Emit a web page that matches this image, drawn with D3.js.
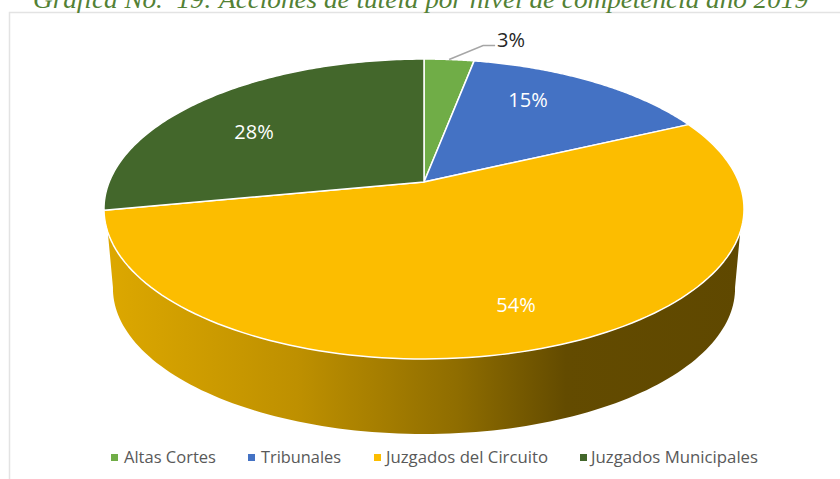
<!DOCTYPE html>
<html>
<head>
<meta charset="utf-8">
<script src="https://cdnjs.cloudflare.com/ajax/libs/d3/7.8.5/d3.min.js"></script>
<style>
  html, body { margin: 0; padding: 0; background: #fff; overflow: hidden; }
  text { font-family: "Open Sans", sans-serif; }
</style>
</head>
<body>
<svg id="chart" width="840" height="479"></svg>
<script>
const titleText = 'Gráfica No.  19: Acciones de tutela por nivel de competencia año 2019'
const categories = ['Altas Cortes', 'Tribunales', 'Juzgados del Circuito', 'Juzgados Municipales']
const values = [3, 15, 54, 28]
const colors = ['#70AD47', '#4472C4', '#FCBD00', '#43672B']

// layout
const hub = { x: 424, y: 182 }
const legendSquareX = [111, 248, 374, 580]
const legendTextX = [124, 261, 386, 591]
const legendTextW = [92, 80, 162, 167]
const labelOffsets = [[87, -142], [104, -82], [92, 123], [-170, -50]]
const labelColors = ['#262626', '#fff', '#fff', '#fff']

// the pie is a circle seen in perspective, so the hub sits above the ellipse centre
const k = 0.18
const a = 314.8
const b = 145.1
const wallDrop = 80
const wallScale = 0.972

function project (theta, r = 1, scale = 1, drop = 0) {
  const u = r * Math.sin(theta)
  const v = r * Math.cos(theta)
  const den = 1 + k * v
  return [hub.x + scale * a * u / den, hub.y + drop - scale * b * v / den]
}

const svg = d3.select('#chart')
const deg = Math.PI / 180

// chart frame
svg.append('path')
  .attr('d', 'M9.5,479V12.5H840')
  .attr('fill', 'none')
  .attr('stroke', '#e3e3e3')
  .attr('stroke-width', 1.5)

svg.append('text')
  .attr('x', 33)
  .attr('y', 8)
  .attr('textLength', 775)
  .attr('lengthAdjust', 'spacingAndGlyphs')
  .style('font-family', '"Liberation Serif", serif')
  .style('font-style', 'italic')
  .style('font-size', '26px')
  .style('white-space', 'pre')
  .attr('fill', '#538135')
  .text(titleText)

// wall gradient, light on the left and dark toward the right
const grad = svg.append('defs').append('linearGradient')
  .attr('id', 'wallShade')
  .attr('gradientUnits', 'userSpaceOnUse')
  .attr('x1', 105).attr('x2', 745).attr('y1', 0).attr('y2', 0)
const stops = [[0, '#DDA800'], [0.3, '#BE9000'], [0.55, '#8F6D00'], [0.72, '#634B00'], [1, '#5F4800']]
grad.selectAll('stop').data(stops).enter().append('stop')
  .attr('offset', d => d[0])
  .attr('stop-color', d => d[1])

const line = d3.line()
const sample = (from, to, fn) => d3.range(0, 121).map(i => fn(from + (to - from) * i / 120))

// side wall under the front rim, going round by the bottom of the pie
const wallTop = sample(109 * deg, 251 * deg, t => project(t))
const wallBottom = sample(260 * deg, 100 * deg, t => project(t, 1, wallScale, wallDrop))
svg.append('path')
  .attr('d', line(wallTop.concat(wallBottom)) + 'Z')
  .attr('fill', 'url(#wallShade)')

// top face
const arcs = d3.pie().sort(null)(values)
svg.selectAll('path.slice')
  .data(arcs)
  .enter()
  .append('path')
  .attr('class', 'slice')
  .attr('d', d => line([[hub.x, hub.y]].concat(sample(d.startAngle, d.endAngle, t => project(t)))) + 'Z')
  .attr('fill', (d, i) => colors[i])
  .attr('stroke', '#fff')
  .attr('stroke-width', 1.5)
  .attr('stroke-linejoin', 'round')

// leader line for the small slice
const smallMid = (arcs[0].startAngle + arcs[0].endAngle) / 2
const leaderStart = project(smallMid)
svg.append('path')
  .attr('d', line([leaderStart, [leaderStart[0] + 34, leaderStart[1] - 14], [leaderStart[0] + 46, leaderStart[1] - 14]]))
  .attr('fill', 'none')
  .attr('stroke', '#a6a6a6')
  .attr('stroke-width', 1.5)

svg.selectAll('text.pct')
  .data(values)
  .enter()
  .append('text')
  .attr('class', 'pct')
  .attr('x', (d, i) => hub.x + labelOffsets[i][0])
  .attr('y', (d, i) => hub.y + labelOffsets[i][1])
  .attr('dy', '0.35em')
  .attr('text-anchor', 'middle')
  .attr('fill', (d, i) => labelColors[i])
  .style('font-size', '20px')
  .text(d => d + '%')

// legend
const legend = svg.selectAll('g.legend')
  .data(categories)
  .enter()
  .append('g')
  .attr('class', 'legend')
legend.append('rect')
  .attr('x', (d, i) => legendSquareX[i])
  .attr('y', 454)
  .attr('width', 7)
  .attr('height', 7)
  .attr('fill', (d, i) => colors[i])
legend.append('text')
  .attr('x', (d, i) => legendTextX[i])
  .attr('y', 457)
  .attr('dy', '0.35em')
  .attr('textLength', (d, i) => legendTextW[i])
  .attr('lengthAdjust', 'spacingAndGlyphs')
  .attr('fill', '#595959')
  .style('font-size', '16.5px')
  .text(d => d)
</script>
</body>
</html>
